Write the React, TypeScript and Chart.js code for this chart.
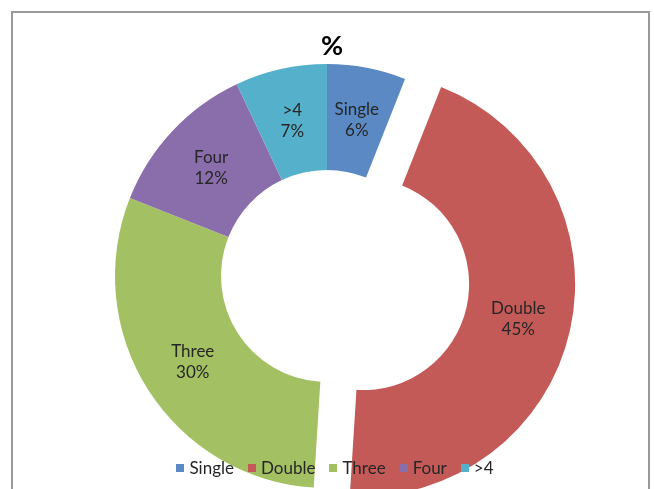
import React, { useEffect, useRef } from "react";
import { Chart, registerables } from "chart.js";

Chart.register(...registerables);

const categories = ["Single", "Double", "Three", "Four", ">4"];
const percentValues = [6, 45, 30, 12, 7];
const sliceColors = ["#5A89C4", "#C45A57", "#A3C162", "#8A6DAB", "#55B1CB"];
const explodedIndex = 1;
const explodeDistance = 37;
const chartTitle = "%";

const FONT = "Lato, 'Open Sans', sans-serif";

const explodePlugin = {
  id: "explodeSlice",
  afterDatasetUpdate(chart: any, args: any) {
    const el = args.meta.data[explodedIndex];
    if (!el) return;
    const mid = (el.startAngle + el.endAngle) / 2;
    el.x += Math.cos(mid) * explodeDistance;
    el.y += Math.sin(mid) * explodeDistance;
  },
};

const labelPlugin = {
  id: "sliceLabels",
  afterDatasetsDraw(chart: any) {
    const ctx = chart.ctx;
    const meta = chart.getDatasetMeta(0);
    ctx.save();
    ctx.font = `17px ${FONT}`;
    ctx.fillStyle = "#262626";
    ctx.textAlign = "center";
    ctx.textBaseline = "middle";
    meta.data.forEach((el: any, i: number) => {
      const mid = (el.startAngle + el.endAngle) / 2;
      const r = (el.innerRadius + el.outerRadius) / 2;
      const x = el.x + Math.cos(mid) * r;
      const y = el.y + Math.sin(mid) * r;
      ctx.fillText(categories[i], x, y - 10);
      ctx.fillText(percentValues[i] + "%", x, y + 11);
    });
    ctx.restore();
  },
};

export default function App() {
  const canvasRef = useRef<HTMLCanvasElement | null>(null);

  useEffect(() => {
    if (!canvasRef.current) return;
    const chart = new Chart(canvasRef.current, {
      type: "doughnut",
      data: {
        labels: categories,
        datasets: [
          {
            data: percentValues,
            backgroundColor: sliceColors,
            borderWidth: 0,
            hoverOffset: 0,
            offset: 0,
          },
        ],
      },
      options: {
        responsive: false,
        animation: false,
        events: [],
        cutout: "50%",
        layout: { padding: { top: 64, bottom: 1, left: 0, right: 0 } },
        plugins: {
          legend: { display: false },
          title: { display: false },
          tooltip: { enabled: false },
        },
      },
      plugins: [explodePlugin, labelPlugin],
    });
    return () => chart.destroy();
  }, []);

  return (
    <div
      style={{
        position: "fixed",
        left: 0,
        top: 0,
        width: 654,
        height: 489,
        overflow: "hidden",
        background: "#ffffff",
      }}
    >
      <div
        style={{
          position: "absolute",
          left: 11,
          top: 11,
          width: 635,
          height: 520,
          border: "2px solid #9a9a9a",
        }}
      />
      <canvas
        ref={canvasRef}
        width={654}
        height={489}
        style={{ position: "absolute", left: 0, top: 0 }}
      />
      <div
        style={{
          position: "absolute",
          left: 0,
          width: 664,
          top: 30,
          textAlign: "center",
          font: `bold 27px ${FONT}`,
          color: "#000",
          lineHeight: "30px",
        }}
      >
        {chartTitle}
      </div>
      <div
        style={{
          position: "absolute",
          left: 0,
          width: 670,
          top: 457,
          display: "flex",
          justifyContent: "center",
          alignItems: "center",
          font: `17px ${FONT}`,
          color: "#262626",
          lineHeight: "22px",
        }}
      >
        {categories.map((c, i) => (
          <div
            key={c}
            style={{ display: "flex", alignItems: "center", marginRight: i < categories.length - 1 ? 14 : 0 }}
          >
            <span
              style={{
                display: "inline-block",
                width: 8,
                height: 8,
                background: sliceColors[i],
                marginRight: 5,
              }}
            />
            <span>{c}</span>
          </div>
        ))}
      </div>
    </div>
  );
}
